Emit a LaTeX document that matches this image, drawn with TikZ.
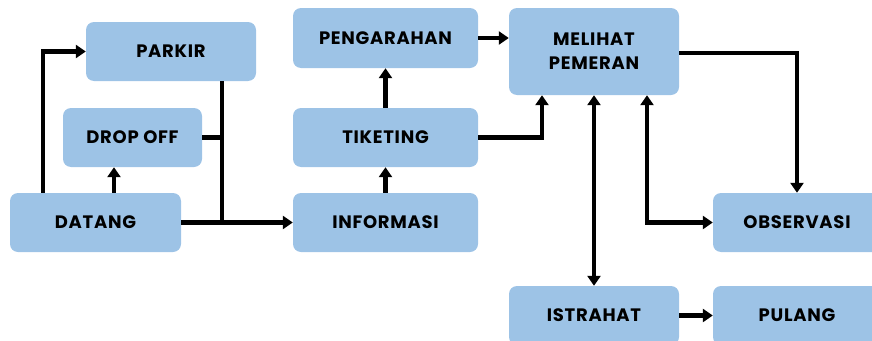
\documentclass[tikz,border=0pt]{standalone}
\usepackage{fontspec}
\setmainfont{Poppins}[BoldFont={Poppins Bold},BoldFeatures={LetterSpace=4}]
\usetikzlibrary{arrows.meta,calc}
\definecolor{boxblue}{HTML}{9DC3E6}
\begin{document}
\begin{tikzpicture}[x=1pt,y=-1pt,
  box/.style={fill=boxblue,draw=none,rounded corners=8pt,inner sep=0pt,
    font=\fontsize{18}{24}\selectfont\bfseries,text=black,align=center},
  arr/.style={line width=4.2pt,-{Triangle[length=10pt,width=13pt]}},
  dbl/.style={line width=4.2pt,{Triangle[length=10pt,width=13pt]}-{Triangle[length=10pt,width=13pt]}},
  ln/.style={line width=4.2pt}]
\useasboundingbox (0,0) rectangle (872,340);
\clip (0,0) rectangle (872,340);
\node[box,minimum width=170pt,minimum height=59pt] (parkir) at (171,51.5) {PARKIR};
\node[box,minimum width=139pt,minimum height=59pt] (dropoff) at (132.5,137.5) {DROP OFF};
\node[box,minimum width=171pt,minimum height=59pt] (datang) at (95.5,222.5) {DATANG};
\node[box,minimum width=185pt,minimum height=60pt] (pengarahan) at (385.5,38) {PENGARAHAN};
\node[box,minimum width=185pt,minimum height=59pt] (tiketing) at (385.5,137.5) {TIKETING};
\node[box,minimum width=185pt,minimum height=59pt] (informasi) at (385.5,222.5) {INFORMASI};
\node[box,minimum width=170pt,minimum height=87pt] (melihat) at (594,51.5) {MELIHAT\\PEMERAN};
\node[box,minimum width=168pt,minimum height=59pt] (observasi) at (797,222.5) {OBSERVASI};
\node[box,minimum width=170pt,minimum height=59pt] (istrahat) at (594,315.5) {ISTRAHAT};
\node[box,minimum width=168pt,minimum height=59pt] (pulang) at (797,315.5) {PULANG};
% left group
\draw[arr] ([xshift=33pt]datang.north west) |- (parkir.west);
\draw[arr] ([xshift=18.5pt]datang.north) -- ([xshift=-18.5pt]dropoff.south);
\coordinate (pk) at ([xshift=51pt]parkir.south);
\coordinate (j) at (pk |- datang.east);
\draw[ln] (pk) -- (j);
\draw[ln] (dropoff.east) -- (dropoff.east -| j);
\draw[arr] (datang.east) -- (informasi.west);
% middle
\draw[arr] (informasi.north) -- (tiketing.south);
\draw[arr] (tiketing.north) -- (pengarahan.south);
\draw[arr] (pengarahan.east) -- (pengarahan.east -| melihat.west);
\draw[arr] (tiketing.east) -| ([xshift=-52pt]melihat.south);
% right
\draw[dbl] (melihat.south) -- (istrahat.north);
\draw[dbl] ([xshift=53pt]melihat.south) |- (observasi.west);
\draw[arr] ([yshift=-1.5pt]melihat.east) -| (observasi.north);
\draw[arr] (istrahat.east) -- (pulang.west);
\end{tikzpicture}
\end{document}
